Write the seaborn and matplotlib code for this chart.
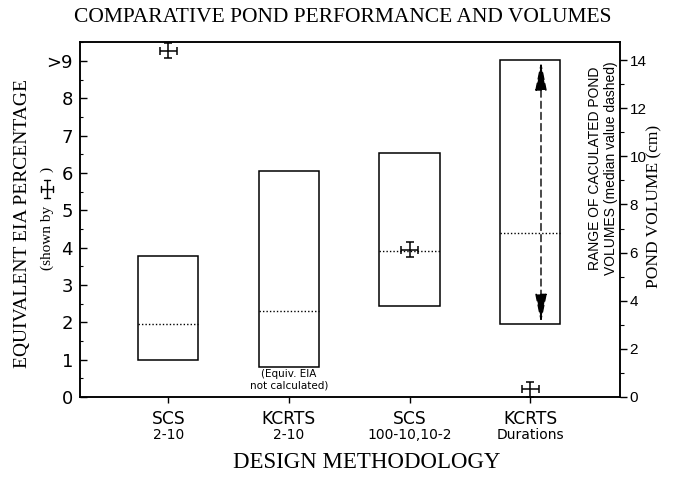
import numpy as np
import matplotlib
matplotlib.use("Agg")
import matplotlib.pyplot as plt
import seaborn as sns
from matplotlib.lines import Line2D
from matplotlib.ticker import MultipleLocator

# design methods on the x axis
methods = ["SCS", "KCRTS", "SCS", "KCRTS"]
method_notes = ["2-10", "2-10", "100-10,10-2", "Durations"]
positions = [0, 1, 2, 3]

# pond volume range (cm), right axis
vol_low = [1.55, 1.23, 3.79, 3.02]
vol_high = [5.87, 9.40, 10.15, 14.0]
vol_median = [3.05, 3.56, 6.07, 6.80]

# equivalent EIA percentage, left axis (none for KCRTS 2-10)
eia_pos = [0, 2, 3]
eia_value = [9.28, 3.94, 0.21]
eia_ticks = ["0", "1", "2", "3", "4", "5", "6", "7", "8", ">9"]
vol_ticks = [0, 2, 4, 6, 8, 10, 12, 14]

sns.set_style("ticks", {"text.color": "black", "axes.edgecolor": "black",
                        "axes.labelcolor": "black", "xtick.color": "black",
                        "ytick.color": "black"})
plt.rcParams["font.family"] = ["DejaVu Sans"]
SERIF = ["Liberation Serif", "DejaVu Serif"]
SANS = ["Liberation Sans", "DejaVu Sans"]

W, H = 688, 479
fig = plt.figure(figsize=(W / 100, H / 100), dpi=100)
ax = fig.add_axes([80 / W, 1 - 397 / H, 540 / W, 355 / H])
ax2 = ax.twinx()

heights = np.array(vol_high) - np.array(vol_low)
sns.barplot(x=positions, y=heights, bottom=vol_low, width=0.5, fill=False,
            color="black", linewidth=1.1, errorbar=None, ax=ax2)
ax2.hlines(vol_median, np.array(positions) - 0.25, np.array(positions) + 0.25,
           colors="black", linestyles=(0, (1, 1.5)), linewidth=1)

# range arrow in the KCRTS durations box
ax2.annotate("", xy=(3.09, vol_high[3]), xytext=(3.09, vol_low[3]),
             arrowprops=dict(arrowstyle="<|-|>,head_length=0.9,head_width=0.18",
                             linestyle=(0, (5, 3)), color="black", lw=1.0,
                             mutation_scale=20, shrinkA=1, shrinkB=1))

ax.errorbar(eia_pos, eia_value, xerr=0.07, yerr=0.2, fmt="none", ecolor="black",
            elinewidth=1.1, capsize=3, capthick=1.1, clip_on=False)

ax.set_xlim(-0.732, 3.745)
ax.set_ylim(0, 9.51)
ax2.set_ylim(0, 14.75)

ax.set_yticks(range(10))
ax.set_yticklabels(eia_ticks, fontsize=13)
ax.yaxis.set_minor_locator(MultipleLocator(0.5))
ax.tick_params(axis="y", which="both", direction="in", left=True, right=False, pad=5)
ax.tick_params(axis="y", which="major", length=5, width=1)
ax.tick_params(axis="y", which="minor", length=2.5, width=0.8)

ax2.set_yticks(vol_ticks)
ax2.set_yticklabels([str(v) for v in vol_ticks], fontsize=11, family=SANS)
ax2.yaxis.set_minor_locator(MultipleLocator(1))
ax2.tick_params(axis="y", which="both", direction="out", pad=2)
ax2.tick_params(axis="y", which="major", length=5, width=1)
ax2.tick_params(axis="y", which="minor", length=3, width=0.8)

ax.set_xticks(positions)
ax.set_xticklabels([])
ax.tick_params(axis="x", direction="out", length=4, width=1)
ax2.tick_params(axis="x", bottom=False, labelbottom=False)
for i in positions:
    ax.text(i, -0.063, methods[i], transform=ax.get_xaxis_transform(),
            ha="center", va="center", fontsize=12.3)
    ax.text(i, -0.107, method_notes[i], transform=ax.get_xaxis_transform(),
            ha="center", va="center", fontsize=10)

for a in (ax, ax2):
    a.set_xlabel("")
    a.set_ylabel("")
    for s in a.spines.values():
        s.set_visible(True)
        s.set_linewidth(1.1)
        s.set_color("black")

ax2.text(1, 0.71, "(Equiv. EIA\nnot calculated)", ha="center", va="center",
         fontsize=7.5, linespacing=1.15)

fig.text(343 / W, 1 - 18 / H, "COMPARATIVE POND PERFORMANCE AND VOLUMES",
         ha="center", va="center", fontsize=15.5, family=SERIF)
fig.text(367 / W, 1 - 463 / H, "DESIGN METHODOLOGY", ha="center", va="center",
         fontsize=16.5, family=SERIF)
fig.text(23 / W, 1 - 223 / H, "EQUIVALENT EIA PERCENTAGE", rotation=90,
         ha="center", va="center", fontsize=14, family=SERIF)
fig.text(654 / W, 1 - 206 / H, "POND VOLUME (cm)", rotation=90,
         ha="center", va="center", fontsize=12.5, family=SERIF)
fig.text(603 / W, 1 - 168 / H, "RANGE OF CACULATED POND\nVOLUMES (median value dashed)",
         rotation=90, ha="center", va="center", fontsize=10, linespacing=1.25,
         multialignment="center", family=SANS)

# "(shown by +)" note beside the left label, with the error-cross glyph
fig.text(47 / W, 1 - 270 / H, "(shown by", rotation=90, ha="center", va="bottom",
         fontsize=11, family=SERIF)
fig.text(47 / W, 1 - 167 / H, ")", rotation=90, ha="center", va="top",
         fontsize=11, family=SERIF)
gx, gy = 47, 189
for xs, ys in [([gx - 6, gx + 6], [gy, gy]), ([gx, gx], [gy - 9, gy + 9]),
               ([gx - 6, gx - 6], [gy - 3, gy + 3]), ([gx + 6, gx + 6], [gy - 3, gy + 3]),
               ([gx - 3, gx + 3], [gy - 9, gy - 9]), ([gx - 3, gx + 3], [gy + 9, gy + 9])]:
    fig.add_artist(Line2D([x / W for x in xs], [1 - y / H for y in ys], color="black",
                          lw=1, transform=fig.transFigure))

fig.savefig("out.png", dpi=100)
